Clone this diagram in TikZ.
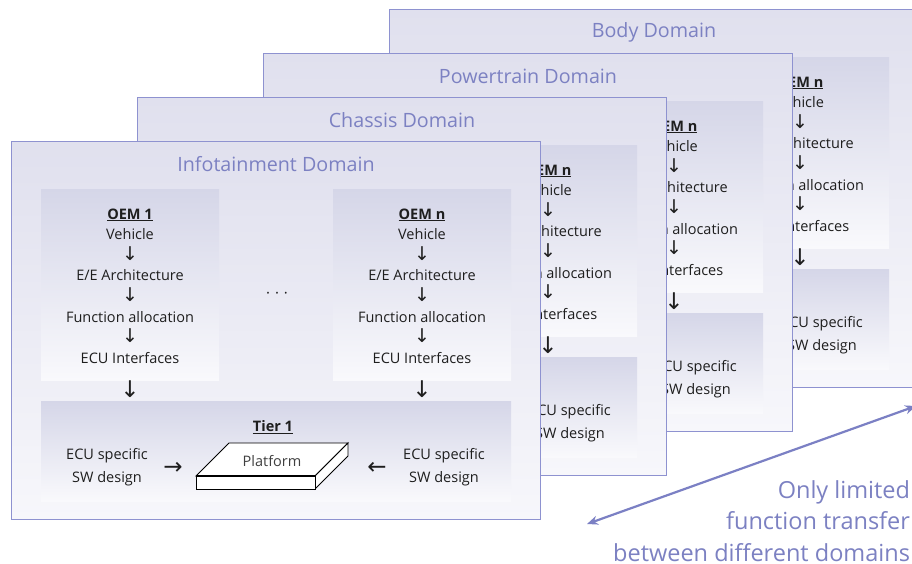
\documentclass[tikz,border=0pt]{standalone}
\usepackage{fontspec}
\setmainfont{Open Sans}
\newfontfamily\arrowfont{DejaVu Sans}
\usetikzlibrary{arrows.meta}
\definecolor{lav}{HTML}{8E92D0}
\definecolor{titlec}{HTML}{7C81C2}
\definecolor{arrowc}{HTML}{7B80C4}
\definecolor{panelTop}{HTML}{E0E0EE}
\definecolor{panelBot}{HTML}{F7F7FB}
\definecolor{boxTop}{HTML}{D5D6E8}
\definecolor{boxBot}{HTML}{F9F9FC}
\definecolor{txt}{HTML}{1E1E1E}
\newcommand\dn{{\arrowfont\fontsize{19}{20}\selectfont ↓}}
\tikzset{
  panel/.style={draw=lav, line width=1pt, top color=panelTop, bottom color=panelBot,
    minimum width=529pt, minimum height=378pt, inner sep=0pt, anchor=north west},
  oembox/.style={top color=boxTop, bottom color=boxBot, inner sep=0pt, anchor=north west,
    minimum width=178pt, minimum height=191pt},
  tierbox/.style={top color=boxTop, bottom color=boxBot, inner sep=0pt, anchor=north west,
    minimum width=470pt, minimum height=100pt},
  domtitle/.style={text=titlec, font=\fontsize{19.7}{22}\selectfont, inner sep=0pt},
  oemtext/.style={text=txt, align=center, font=\fontsize{14.5}{20.6}\selectfont, inner sep=0pt},
  ecutext/.style={text=txt, align=center, font=\fontsize{14.5}{23}\selectfont, inner sep=0pt},
  glyph/.style={text=txt, font=\fontsize{23}{24}\selectfont\arrowfont, inner sep=0pt},
  plat/.style={draw=black, fill=white, line width=0.9pt, line join=miter},
}
\newcommand\DomainPanel[3]{%
\begin{scope}[shift={#2}, name prefix=#1-]
  \node[panel] (panel) at (11,141) {};
  \node[domtitle] (title) at (276,164) {#3};
  \node[oembox] (oem1box) at (41,189) {};
  \node[oembox] (oemnbox) at (333,189) {};
  \node[oemtext] (oem1) at (130,286) {\underline{\textbf{OEM 1}}\\Vehicle\\\dn\\E/E Architecture\\\dn\\Function allocation\\\dn\\ECU Interfaces};
  \node[oemtext] (oemn) at (422,286) {\underline{\textbf{OEM n}}\\Vehicle\\\dn\\E/E Architecture\\\dn\\Function allocation\\\dn\\ECU Interfaces};
  \node[text=txt, font=\fontsize{15}{16}\selectfont, inner sep=0pt] (dots) at (277,295) {·\,\,·\,\,·};
  \node[glyph] (d1) at (130,389) {↓};
  \node[glyph] (d2) at (422,389) {↓};
  \node[tierbox] (tierbox) at (41,401) {};
  \node[ecutext] (ecul) at (107,467) {ECU specific\\SW design};
  \node[ecutext] (ecur) at (444,467) {ECU specific\\SW design};
  \node[glyph] (ar) at (173,468) {→};
  \node[glyph] (al) at (377,468) {←};
  \node[text=txt, font=\fontsize{14.5}{16}\selectfont\bfseries, inner sep=0pt] (tier) at (273,427) {\underline{Tier 1}};
  \draw[plat] (196,476) -- (229,443) -- (348,443) -- (315,476) -- cycle;
  \draw[plat] (315,476) -- (348,443) -- (348,456) -- (315,489) -- cycle;
  \draw[plat] (196,476) rectangle (315,489);
  \draw[line width=1.5pt] (196,476) -- (315,476);
  \node[text=txt!85, font=\fontsize{14.5}{16}\selectfont, inner sep=0pt] (platform) at (272,461) {Platform};
\end{scope}}
\begin{document}
\begin{tikzpicture}[x=1pt,y=-1pt]
\path[use as bounding box] (0,0) rectangle (912,563);
\clip (0,0) rectangle (912,563);
\fill[white] (0,0) rectangle (912,563);
\DomainPanel{body}{(378,-132)}{Body Domain}
\DomainPanel{pt}{(252,-88)}{Powertrain Domain}
\DomainPanel{ch}{(126,-44)}{Chassis Domain}
\DomainPanel{inf}{(0,0)}{Infotainment Domain}
\coordinate (limA) at (587,524);
\coordinate (limB) at (916,406);
\draw[arrowc, line width=2.2pt, {Stealth[length=11pt,width=9pt]}-{Stealth[length=11pt,width=9pt]}] (limA) -- (limB);
\node[anchor=north west, align=right, inner sep=0pt, text=titlec, font=\fontsize{23.5}{31.5}\selectfont] (limtext) at (613,480) {Only limited\\function transfer\\between different domains};
\end{tikzpicture}
\end{document}
